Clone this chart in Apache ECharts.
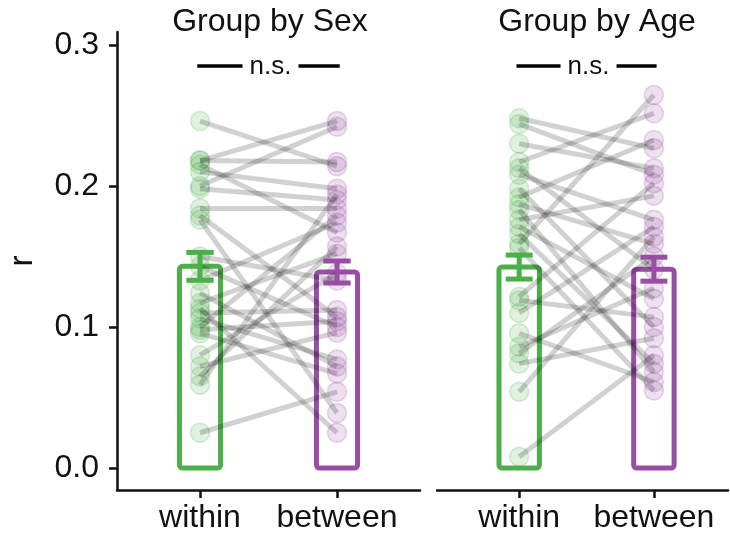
<!DOCTYPE html>
<html>
<head>
<meta charset="utf-8">
<script src="https://cdn.jsdelivr.net/npm/echarts@6/dist/echarts.min.js"></script>
<style>
  html, body { margin: 0; padding: 0; background: #fff; }
  #chart { width: 730px; height: 542px; }
</style>
</head>
<body>
<div id="chart"></div>
<script>
// ---- data ----
const panelTitles = ['Group by Sex', 'Group by Age'];
const xLabels = ['within', 'between'];
const yTicks = [0, 0.1, 0.2, 0.3];
const yAxisName = 'r';

// paired values (within, between) per subject
const sexWithin  = [0.246, 0.218, 0.218, 0.215, 0.210, 0.200, 0.198, 0.184, 0.179, 0.176, 0.150, 0.143, 0.133,
                    0.124, 0.117, 0.113, 0.110, 0.106, 0.100, 0.098, 0.0955, 0.080, 0.072, 0.065, 0.059, 0.025];
const sexBetween = [0.214, 0.246, 0.217, 0.167, 0.198, 0.242, 0.190, 0.184, 0.107, 0.039, 0.133, 0.100, 0.174,
                    0.072, 0.152, 0.025, 0.112, 0.077, 0.179, 0.104, 0.067, 0.138, 0.096, 0.157, 0.194, 0.054];

const ageWithin  = [0.248, 0.244, 0.230, 0.217, 0.2125, 0.208, 0.198, 0.192, 0.187, 0.183, 0.176, 0.171,
                    0.166, 0.159, 0.156, 0.1215, 0.119, 0.110, 0.0955, 0.086, 0.0813, 0.074, 0.054, 0.008];
const ageBetween = [0.2267, 0.208, 0.2125, 0.2515, 0.141, 0.176, 0.100, 0.2326, 0.159, 0.068, 0.193, 0.120,
                    0.074, 0.2645, 0.055, 0.202, 0.107, 0.171, 0.061, 0.1275, 0.150, 0.092, 0.164, 0.080];

// bar heights (means) and error (sem) per panel: [within, between]
const sexMeans = [0.143, 0.139];
const sexSem   = [0.0099, 0.0078];
const ageMeans = [0.1425, 0.141];
const ageSem   = [0.0085, 0.0085];

const sigLabel = 'n.s.';
const sigY = 0.285;

// ---- styling ----
const GREEN = '#4daf4a';
const PURPLE = '#984ea3';
const colors = [GREEN, PURPLE];
const FONT = '"Liberation Sans", Arial, Helvetica, sans-serif';
const AXIS_COLOR = '#111';

const chart = echarts.init(document.getElementById('chart'), null, { renderer: 'canvas' });

const panels = [
  { w: sexWithin, b: sexBetween, means: sexMeans, sem: sexSem },
  { w: ageWithin, b: ageBetween, means: ageMeans, sem: ageSem }
];

const grids = [
  { left: 117, right: 310, top: 32, bottom: 52 },
  { left: 437, right: 2, top: 32, bottom: 52 }
];
const xRanges = [[-0.606, 1.606], [-0.61, 1.55]];

const xAxes = [], yAxes = [], series = [];

panels.forEach((p, i) => {
  xAxes.push({
    type: 'value', gridIndex: i, min: xRanges[i][0], max: xRanges[i][1],
    splitLine: { show: false },
    axisLine: { show: true, onZero: false, lineStyle: { color: AXIS_COLOR, width: 2.5 } },
    axisTick: { show: true, length: 8, lineStyle: { color: AXIS_COLOR, width: 2.5 }, customValues: [0, 1] },
    axisLabel: {
      customValues: [0, 1], margin: 12,
      formatter: v => xLabels[Math.round(v)],
      color: '#111', fontSize: 32, fontFamily: FONT
    }
  });
  yAxes.push({
    type: 'value', gridIndex: i, min: -0.0156, max: 0.3092,
    splitLine: { show: false },
    name: i === 0 ? yAxisName : '',
    nameLocation: 'middle', nameGap: 78, nameRotate: 90,
    nameTextStyle: { color: '#111', fontSize: 33, fontFamily: FONT },
    axisLine: { show: i === 0, onZero: false, lineStyle: { color: AXIS_COLOR, width: 2.5 } },
    axisTick: { show: i === 0, length: 8, lineStyle: { color: AXIS_COLOR, width: 2.5 }, customValues: yTicks },
    axisLabel: {
      show: i === 0, customValues: yTicks, margin: 18,
      formatter: v => v.toFixed(1),
      color: '#111', fontSize: 32, fontFamily: FONT
    }
  });

  // outlined bars
  series.push({
    type: 'custom', xAxisIndex: i, yAxisIndex: i, z: 1, silent: true,
    data: p.means.map((m, k) => [k, m]),
    renderItem: (params, api) => {
      const x = api.value(0), v = api.value(1);
      const tl = api.coord([x - 0.15, v]);
      const br = api.coord([x + 0.15, 0]);
      return {
        type: 'rect',
        shape: { x: tl[0], y: tl[1], width: br[0] - tl[0], height: br[1] - tl[1], r: 3 },
        style: { fill: 'rgba(0,0,0,0)', stroke: colors[x], lineWidth: 5 }
      };
    }
  });

  // points
  [p.w, p.b].forEach((arr, k) => {
    series.push({
      type: 'scatter', xAxisIndex: i, yAxisIndex: i, z: 2, silent: true,
      symbol: 'circle', symbolSize: 19,
      data: arr.map(v => [k, v]),
      itemStyle: {
        color: k === 0 ? 'rgba(77,175,74,0.22)' : 'rgba(152,78,163,0.22)',
        borderColor: k === 0 ? 'rgba(77,175,74,0.28)' : 'rgba(152,78,163,0.28)',
        borderWidth: 1.5
      }
    });
  });

  // paired lines
  series.push({
    type: 'custom', xAxisIndex: i, yAxisIndex: i, z: 3, silent: true,
    data: p.w.map((v, k) => [v, p.b[k]]),
    renderItem: (params, api) => {
      const a = api.coord([0, api.value(0)]);
      const b = api.coord([1, api.value(1)]);
      return {
        type: 'line',
        shape: { x1: a[0], y1: a[1], x2: b[0], y2: b[1] },
        style: { stroke: 'rgba(0,0,0,0.18)', lineWidth: 5, lineCap: 'butt' }
      };
    }
  });

  // error bars
  series.push({
    type: 'custom', xAxisIndex: i, yAxisIndex: i, z: 4, silent: true,
    data: p.means.map((m, k) => [k, m, p.sem[k]]),
    renderItem: (params, api) => {
      const x = api.value(0), m = api.value(1), s = api.value(2);
      const top = api.coord([x, m + s]);
      const bot = api.coord([x, m - s]);
      const half = (api.coord([0.1, 0])[0] - api.coord([0, 0])[0]);
      const st = { stroke: colors[x], lineWidth: 5 };
      return {
        type: 'group',
        children: [
          { type: 'line', shape: { x1: top[0], y1: top[1], x2: bot[0], y2: bot[1] }, style: st },
          { type: 'line', shape: { x1: top[0] - half, y1: top[1], x2: top[0] + half, y2: top[1] }, style: st },
          { type: 'line', shape: { x1: bot[0] - half, y1: bot[1], x2: bot[0] + half, y2: bot[1] }, style: st }
        ]
      };
    }
  });

  // significance bracket
  series.push({
    type: 'custom', xAxisIndex: i, yAxisIndex: i, z: 5, silent: true,
    data: [[0, 1, sigY]],
    renderItem: (params, api) => {
      const a = api.coord([api.value(0) - 0.02, api.value(2)]);
      const b = api.coord([api.value(1) + 0.02, api.value(2)]);
      const c = api.coord([(api.value(0) + api.value(1)) / 2, api.value(2)]);
      const cx = c[0] + 2;
      const st = { stroke: '#000', lineWidth: 3.5 };
      return {
        type: 'group',
        children: [
          { type: 'line', shape: { x1: a[0], y1: a[1], x2: cx - 28, y2: a[1] }, style: st },
          { type: 'line', shape: { x1: cx + 28, y1: b[1], x2: b[0], y2: b[1] }, style: st },
          { type: 'text', x: cx, y: c[1] + 1,
            style: { text: sigLabel, textAlign: 'center', textVerticalAlign: 'middle',
                     fill: '#111', fontSize: 26, fontFamily: FONT } }
        ]
      };
    }
  });
});

const option = {
  backgroundColor: '#fff',
  animation: false,
  grid: grids,
  xAxis: xAxes,
  yAxis: yAxes,
  series: series,
  graphic: [
    { type: 'text', x: 270, y: 22, silent: true,
      style: { text: panelTitles[0], textAlign: 'center', textVerticalAlign: 'middle',
               fill: '#111', fontSize: 32, fontFamily: FONT } },
    { type: 'text', x: 597, y: 22, silent: true,
      style: { text: panelTitles[1], textAlign: 'center', textVerticalAlign: 'middle',
               fill: '#111', fontSize: 32, fontFamily: FONT } }
  ]
};

chart.setOption(option);
</script>
</body>
</html>
